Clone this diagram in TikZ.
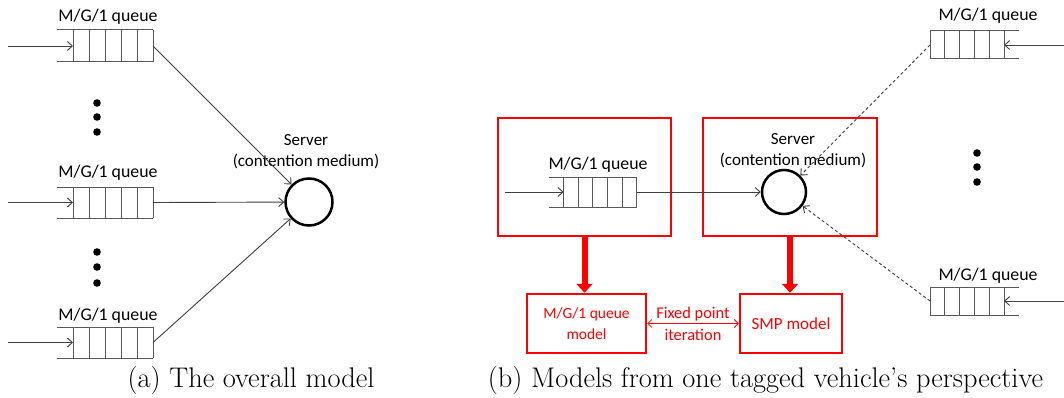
\documentclass[tikz,border=0pt]{standalone}
\usepackage{fontspec}
\newfontfamily\calib{Carlito}
\usetikzlibrary{arrows.meta}
\tikzset{
  qline/.style={draw=black!65, line width=1pt},
  qbody/.style={rectangle, inner sep=0pt, outer sep=0pt},
  conn/.style={draw=black!75, line width=0.9pt, -{Straight Barb[length=5pt,width=9pt]}},
  dconn/.style={conn, dash pattern=on 3pt off 2.5pt},
  qlabel/.style={font=\calib\fontsize{17.8}{20}\selectfont, inner sep=0pt, anchor=base},
  srvlabel/.style={font=\calib\fontsize{17}{21}\selectfont, inner sep=0pt, align=center},
  server/.style={circle, draw=black, line width=2.5pt, inner sep=0pt},
  redbox/.style={rectangle, draw=red, line width=2.5pt, inner sep=0pt},
  redtext/.style={text=red, font=\calib\fontsize{15.5}{21}\selectfont, align=center},
  bigarrow/.style={draw=red, line width=6pt, -{Triangle[length=9pt,width=16pt]}},
  fparrow/.style={draw=red, line width=0.8pt, {Straight Barb[length=4pt,width=8pt]}-{Straight Barb[length=4pt,width=8pt]}},
  caption/.style={font=\fontsize{28.4}{32}\selectfont, inner sep=0pt, anchor=base},
  dot/.style={fill=black}
}
% queue open at the left: name, x of open end, y centre, cell width, height
\newcommand\queueR[5]{%
  \node[qbody, minimum width={5*#4}, minimum height={#5}] (#1) at ({#2+3.5*#4},#3) {};
  \draw[qline] (#1.north east) -- ([xshift={-#4}]#1.north west);
  \draw[qline] (#1.south east) -- ([xshift={-#4}]#1.south west);
  \foreach \i in {0,...,5}{\draw[qline] ([xshift={\i*#4}]#1.south west) -- ([xshift={\i*#4}]#1.north west);}
}
% queue open at the right
\newcommand\queueL[5]{%
  \node[qbody, minimum width={5*#4}, minimum height={#5}] (#1) at ({#2+2.5*#4},#3) {};
  \draw[qline] (#1.north west) -- ([xshift={#4}]#1.north east);
  \draw[qline] (#1.south west) -- ([xshift={#4}]#1.south east);
  \foreach \i in {0,...,5}{\draw[qline] ([xshift={\i*#4}]#1.south west) -- ([xshift={\i*#4}]#1.north west);}
}
\begin{document}
\begin{tikzpicture}[x=1pt,y=-1pt]
\useasboundingbox (0,0) rectangle (1064,398);
\fill[white] (0,0) rectangle (1064,398);

% ---------------- (a) ----------------
\queueR{qa1}{57}{46}{16}{32}
\queueR{qa2}{57}{202.5}{16}{31}
\queueR{qa3}{57}{342.5}{16}{31}
\node[qlabel] (la1) at (108,22) {M/G/1 queue};
\node[qlabel] (la2) at (108,178) {M/G/1 queue};
\node[qlabel] (la3) at (108,320) {M/G/1 queue};
\coordinate (ia1) at (8,46);
\coordinate (ia2) at (8,202.5);
\coordinate (ia3) at (8,342.5);
\draw[conn] (ia1) -- (qa1.west);
\draw[conn] (ia2) -- (qa2.west);
\draw[conn] (ia3) -- (qa3.west);
\foreach \y in {103,117,132,252,267,283} \fill[dot] (97,\y) circle (3.8pt);
\node[server, minimum size=47] (SA) at (309,202) {};
\node[srvlabel] (lsa) at (306,152) {Server\\(contention medium)};
\draw[conn] (qa1.east) -- (SA);
\draw[conn] (qa2.east) -- (SA);
\draw[conn] (qa3.east) -- (SA);
\node[caption] (capa) at (251,387) {(a) The overall model};

% ---------------- (b) ----------------
\node[redbox, minimum width=173, minimum height=118] (B1) at (584.5,177) {};
\node[redbox, minimum width=174, minimum height=118] (B2) at (790,177) {};
\queueR{qb}{549}{192}{14.6}{30}
\node[qlabel] (lb) at (598,170) {M/G/1 queue};
\coordinate (ib) at (505,192);
\draw[conn] (ib) -- (qb.west);
\node[server, minimum size=44] (SB) at (784,192) {};
\node[srvlabel] (lsb) at (793,150.5) {Server\\(contention medium)};
\draw[conn] (qb.east) -- (SB);

\queueL{qr1}{930}{45}{14.8}{28}
\queueL{qr2}{930}{301}{14.8}{28}
\node[qlabel] (lr1) at (988,21) {M/G/1 queue};
\node[qlabel] (lr2) at (988,280) {M/G/1 queue};
\coordinate (ir1) at (1064,45);
\coordinate (ir2) at (1064,301);
\draw[conn] (ir1) -- (qr1.east);
\draw[conn] (ir2) -- (qr2.east);
\foreach \y in {153,167,182} \fill[dot] (977,\y) circle (3.8pt);
\draw[dconn] (qr1.west) -- (SB);
\draw[dconn] (qr2.west) -- (SB);

\node[redbox, minimum width=119, minimum height=59, redtext] (M1) at (586.5,323.5) {M/G/1 queue\\model};
\node[redbox, minimum width=102, minimum height=59, redtext, font=\calib\fontsize{17}{21}\selectfont] (M2) at (791,323.5) {SMP model};
\draw[bigarrow] (B1.south) -- (B1.south |- M1.north);
\draw[bigarrow] (B2.south) -- (B2.south |- M2.north);
\draw[fparrow] (M1.east) -- (M2.west);
\node[redtext, inner sep=0pt, font=\calib\fontsize{16.4}{22}\selectfont] (fp) at (693,324) {Fixed point\\iteration};
\node[caption] (capb) at (765.5,387) {(b) Models from one tagged vehicle’s perspective};
\end{tikzpicture}
\end{document}
